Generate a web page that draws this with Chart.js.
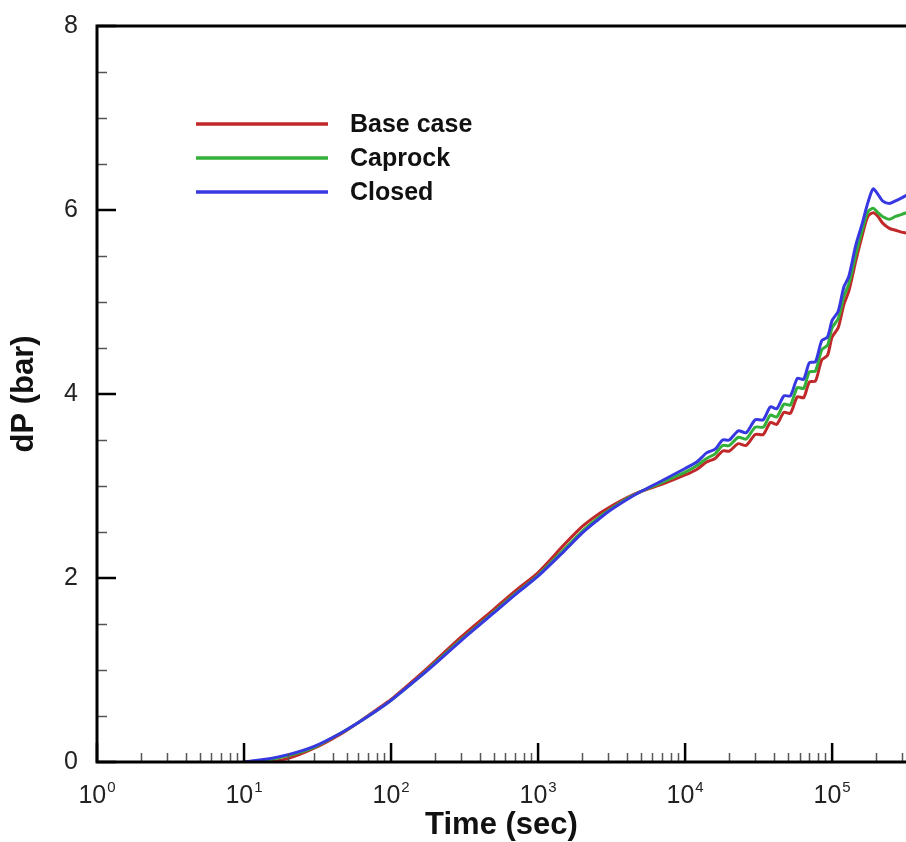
<!DOCTYPE html>
<html>
<head>
<meta charset="utf-8">
<script src="https://cdn.jsdelivr.net/npm/chart.js@4.4.1/dist/chart.umd.min.js"></script>
<style>
  html, body { margin: 0; padding: 0; background: #fff; overflow: hidden; }
</style>
</head>
<body>
<canvas id="myChart" width="906" height="842"></canvas>
<script>
// time (sec)
var times = [10, 14, 20, 30, 45, 60, 80, 100, 150, 200, 300, 500, 700, 1000, 1500, 2000, 2500, 3000, 4000, 5000,
    7000, 10000, 12000, 14000, 16000, 18000, 20000, 23000, 26000, 30000, 34000, 38000, 42000, 47000, 52000,
    58000, 64000, 70000, 77000, 85000, 93000, 100000, 110000, 120000, 130000, 145000, 160000, 175000, 190000,
    205000, 220000, 245000, 270000, 295000, 320000]

var baseCase = [0, 0.0, 0.04, 0.15, 0.3, 0.43, 0.57, 0.68, 0.92, 1.1, 1.36, 1.66, 1.86, 2.06, 2.36, 2.56, 2.68, 2.76, 2.87, 2.94,
    3.02, 3.12, 3.18, 3.26, 3.3, 3.38, 3.38, 3.46, 3.44, 3.56, 3.56, 3.69, 3.67, 3.8, 3.79,
    3.97, 3.96, 4.13, 4.14, 4.37, 4.42, 4.62, 4.72, 4.97, 5.12, 5.45, 5.72, 5.93, 5.97,
    5.93, 5.86, 5.8, 5.78, 5.76, 5.75]

var caprock = [0, 0.02, 0.07, 0.16, 0.31, 0.43, 0.56, 0.67, 0.9, 1.08, 1.33, 1.63, 1.83, 2.03, 2.31, 2.51, 2.64, 2.73, 2.86, 2.94,
    3.04, 3.15, 3.22, 3.3, 3.35, 3.44, 3.44, 3.53, 3.51, 3.64, 3.64, 3.77, 3.75, 3.89, 3.88,
    4.07, 4.06, 4.24, 4.25, 4.48, 4.53, 4.72, 4.82, 5.06, 5.2, 5.52, 5.78, 5.98, 6.02,
    5.97, 5.93, 5.9, 5.93, 5.95, 5.97]

var closedCase = [0, 0.03, 0.08, 0.17, 0.31, 0.43, 0.56, 0.67, 0.9, 1.07, 1.32, 1.62, 1.82, 2.02, 2.29, 2.49, 2.62, 2.72, 2.85, 2.94,
    3.06, 3.19, 3.26, 3.36, 3.4, 3.5, 3.5, 3.6, 3.58, 3.72, 3.72, 3.86, 3.84, 3.98, 3.98,
    4.17, 4.16, 4.34, 4.35, 4.58, 4.62, 4.8, 4.9, 5.16, 5.28, 5.62, 5.85, 6.08, 6.23,
    6.17, 6.1, 6.07, 6.1, 6.13, 6.16]

var xMajor = [1, 10, 100, 1000, 10000, 100000]
var xExp = ["0", "1", "2", "3", "4", "5"]
var yMajor = [0, 2, 4, 6, 8]

var FONT = "'Liberation Sans', Arial, sans-serif"

function pts(vals){
    var out = []
    for (var i = 0; i < times.length; i++) out.push({x: times[i], y: vals[i]})
    return out
}

// axis lines, inward ticks, x labels with exponents and the legend
var frame = {
    id: "frame",
    afterDatasetsDraw: function(chart){
        var c = chart.ctx, a = chart.chartArea
        var xs = chart.scales.x, ys = chart.scales.y
        c.save()
        c.lineCap = "butt"
        // minor x ticks
        c.lineWidth = 1.5
        c.strokeStyle = "#555"
        for (var d = 1; d < 1e6; d *= 10) {
            for (var m = 2; m <= 9; m++) {
                var v = d * m
                if (v > xs.max) break
                var px = Math.round(xs.getPixelForValue(v)) + 0.5
                c.beginPath(); c.moveTo(px, a.bottom); c.lineTo(px, a.bottom - 9); c.stroke()
            }
        }
        // minor y ticks
        for (var y = 0.5; y < 8; y += 0.5) {
            if (y % 2 === 0) continue
            var py = Math.round(ys.getPixelForValue(y)) + 0.5
            c.beginPath(); c.moveTo(a.left, py); c.lineTo(a.left + 10, py); c.stroke()
        }
        // major ticks
        c.strokeStyle = "#000"
        c.lineWidth = 2.5
        xMajor.forEach(function(v){
            var px = xs.getPixelForValue(v)
            c.beginPath(); c.moveTo(px, a.bottom); c.lineTo(px, a.bottom - 19); c.stroke()
        })
        yMajor.forEach(function(v){
            var py = ys.getPixelForValue(v)
            c.beginPath(); c.moveTo(a.left, py); c.lineTo(a.left + 19, py); c.stroke()
        })
        // frame: left, bottom, top
        c.lineWidth = 3
        c.beginPath()
        c.moveTo(a.right + 5, a.top)
        c.lineTo(a.left, a.top)
        c.lineTo(a.left, a.bottom)
        c.lineTo(a.right + 5, a.bottom)
        c.stroke()

        // x tick labels: 10 with a raised exponent
        c.fillStyle = "#222"
        c.textBaseline = "alphabetic"
        c.textAlign = "left"
        xMajor.forEach(function(v, i){
            var px = xs.getPixelForValue(v)
            c.font = "25px " + FONT
            var wb = c.measureText("10").width
            c.font = "15px " + FONT
            var we = c.measureText(xExp[i]).width
            var x0 = px - (wb + we + 1) / 2
            c.font = "25px " + FONT
            c.fillText("10", x0, a.bottom + 41)
            c.font = "15px " + FONT
            c.fillText(xExp[i], x0 + wb + 1, a.bottom + 30)
        })

        // legend
        var ds = chart.data.datasets
        c.font = "bold 25px " + FONT
        c.textBaseline = "middle"
        c.fillStyle = "#111"
        for (var k = 0; k < ds.length; k++) {
            var ly = 124 + k * 34
            c.strokeStyle = ds[k].borderColor
            c.lineWidth = 3.5
            c.beginPath(); c.moveTo(196, ly); c.lineTo(328, ly); c.stroke()
            c.fillText(ds[k].label, 350, ly + 1)
        }
        c.restore()
    }
}

var ctx = document.getElementById("myChart").getContext("2d")
var chart = new Chart(ctx, {
    type: "line",
    data: {
        datasets: [
            { label: "Base case", data: pts(baseCase), borderColor: "#c0282a", order: 3 },
            { label: "Caprock", data: pts(caprock), borderColor: "#33b03a", order: 2 },
            { label: "Closed", data: pts(closedCase), borderColor: "#3838e2", order: 1 }
        ]
    },
    options: {
        responsive: false,
        animation: false,
        layout: { padding: { top: 20, right: 0, left: 0, bottom: 0 } },
        elements: {
            point: { radius: 0 },
            line: { borderWidth: 3, tension: 0.25, fill: false }
        },
        plugins: { legend: { display: false }, tooltip: { enabled: false } },
        scales: {
            x: {
                type: "logarithmic",
                min: 1,
                max: 318000,
                afterBuildTicks: function(s){ s.ticks = xMajor.map(function(v){ return {value: v} }) },
                afterFit: function(s){ s.height = 80 },
                grid: { display: false },
                border: { display: false },
                ticks: { display: false },
                title: {
                    display: true,
                    text: "Time (sec)",
                    color: "#111",
                    font: { size: 31, weight: "bold", family: FONT, lineHeight: 1 },
                    padding: { top: 0, bottom: 1 }
                }
            },
            y: {
                min: 0,
                max: 8,
                afterBuildTicks: function(s){ s.ticks = yMajor.map(function(v){ return {value: v} }) },
                afterFit: function(s){ s.width = 97 },
                grid: { display: false },
                border: { display: false },
                ticks: {
                    padding: 11,
                    color: "#222",
                    font: { size: 25, family: FONT }
                },
                title: {
                    display: true,
                    text: "dP (bar)",
                    color: "#111",
                    font: { size: 31, weight: "bold", family: FONT, lineHeight: 1 },
                    padding: { top: 9, bottom: 0 }
                }
            }
        }
    },
    plugins: [frame]
})
</script>
</body>
</html>
